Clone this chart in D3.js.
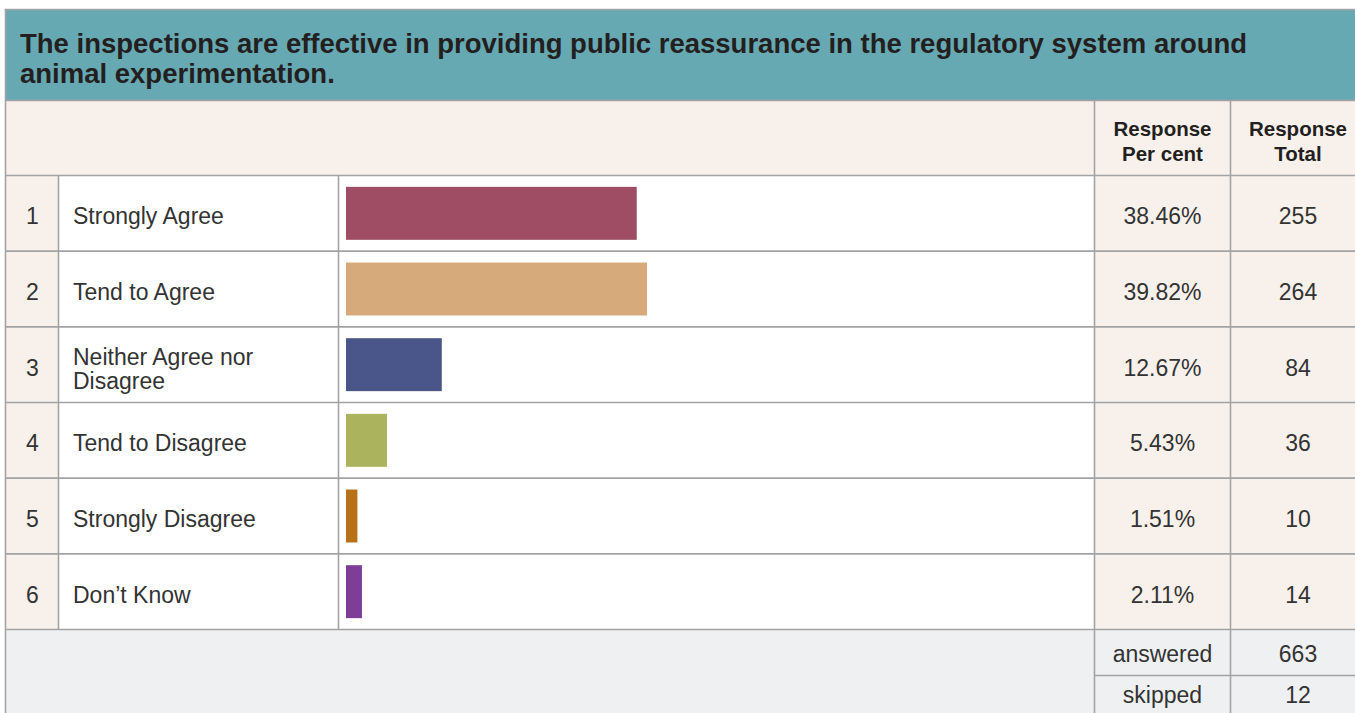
<!DOCTYPE html>
<html>
<head>
<meta charset="utf-8">
<script src="https://cdn.jsdelivr.net/npm/d3@7"></script>
<style>
  html, body { margin: 0; padding: 0; background: #ffffff; }
  svg { display: block; font-family: "Liberation Sans", Arial, sans-serif; }
</style>
</head>
<body>
<div id="wrapper"></div>
<script>
// survey question
const title = 'The inspections are effective in providing public reassurance in the regulatory system around animal experimentation.';

const categories = ['Strongly Agree', 'Tend to Agree', 'Neither Agree nor Disagree', 'Tend to Disagree', 'Strongly Disagree', 'Don\u2019t Know'];
const percents = [38.46, 39.82, 12.67, 5.43, 1.51, 2.11];
const totals = [255, 264, 84, 36, 10, 14];
const colors = ['#9e4d65', '#d6aa7b', '#4a5689', '#abb35c', '#b8711b', '#7e3e97'];
const headers = [['Response', 'Per cent'], ['Response', 'Total']];
const summaryLabels = ['answered', 'skipped'];
const summaryValues = [663, 12];

let width = 1355,
    height = 713;

// column edges
let colX = [5.5, 58.5, 338.5, 1094.5, 1230.5, 1367];
let titleTop = 9.5, titleBottom = 100.5, headTop = 100.5, rowsTop = 175.5, rowsBottom = 629.5, sumRow = 46;

let gridColor = '#a3a3a3',
    cream = '#f8f1eb',
    grey = '#eff0f2',
    teal = '#67a9b3',
    textColor = '#333333';

let svg = d3.select('div#wrapper')
            .append('svg')
            .attr('width', width)
            .attr('height', height);

let rowScale = d3.scaleBand()
                 .domain(d3.range(categories.length))
                 .range([rowsTop, rowsBottom])
                 .padding(0);

let barScale = d3.scaleBand()
                 .domain(d3.range(categories.length))
                 .range([rowsTop, rowsBottom])
                 .paddingInner(0.3)
                 .paddingOuter(0.15);

let x = d3.scaleLinear()
          .domain([0, 100])
          .range([colX[2] + 7.5, colX[2] + 7.5 + 756]);

// title band
svg.append('rect')
   .attr('x', colX[0]).attr('y', titleTop)
   .attr('width', colX[5] - colX[0]).attr('height', titleBottom - titleTop)
   .style('fill', teal);

// header row
svg.append('rect')
   .attr('x', colX[0]).attr('y', headTop)
   .attr('width', colX[5] - colX[0]).attr('height', rowsTop - headTop)
   .style('fill', cream);

// body cell backgrounds
let bgCols = [cream, '#ffffff', '#ffffff', cream, cream];
bgCols.forEach(function(c, i) {
    svg.append('rect')
       .attr('x', colX[i]).attr('y', rowsTop)
       .attr('width', colX[i + 1] - colX[i]).attr('height', rowsBottom - rowsTop)
       .style('fill', c);
});

// summary area
svg.append('rect')
   .attr('x', colX[0]).attr('y', rowsBottom)
   .attr('width', colX[5] - colX[0]).attr('height', height - rowsBottom + 20)
   .style('fill', grey);

// bars
svg.append('g')
   .selectAll('rect')
   .data(percents)
   .enter()
   .append('rect')
   .attr('class', 'bars')
   .attr('x', x(0))
   .attr('y', function(d, i) { return barScale(i); })
   .attr('height', barScale.bandwidth())
   .attr('width', function(d) { return x(d) - x(0); })
   .style('fill', function(d, i) { return colors[i]; });

// grid lines
let grid = svg.append('g')
              .style('stroke', gridColor)
              .style('stroke-width', 1.6)
              .style('fill', 'none');

grid.append('line').attr('x1', colX[0] - 0.8).attr('x2', colX[5]).attr('y1', titleTop).attr('y2', titleTop);
grid.append('line').attr('x1', colX[0]).attr('x2', colX[5]).attr('y1', titleBottom).attr('y2', titleBottom);
grid.append('line').attr('x1', colX[0]).attr('x2', colX[0]).attr('y1', titleTop).attr('y2', height + 5);

let hLines = d3.range(categories.length + 1).map(function(i) { return rowScale(i) === undefined ? rowsBottom : rowScale(i); });
hLines.forEach(function(yy) {
    grid.append('line').attr('x1', colX[0]).attr('x2', colX[5]).attr('y1', yy).attr('y2', yy);
});
grid.append('line').attr('x1', colX[3]).attr('x2', colX[5]).attr('y1', rowsBottom + sumRow).attr('y2', rowsBottom + sumRow);

// vertical lines
[1, 2].forEach(function(i) {
    grid.append('line').attr('x1', colX[i]).attr('x2', colX[i]).attr('y1', rowsTop).attr('y2', rowsBottom);
});
[3, 4].forEach(function(i) {
    grid.append('line').attr('x1', colX[i]).attr('x2', colX[i]).attr('y1', headTop).attr('y2', height + 5);
});

// title text
function wrapWords(textSel, words, maxW) {
    let lines = [], line = [];
    let probe = textSel.append('tspan');
    words.forEach(function(w) {
        line.push(w);
        probe.text(line.join(' '));
        if (probe.node().getComputedTextLength() > maxW && line.length > 1) {
            line.pop();
            lines.push(line.join(' '));
            line = [w];
        }
    });
    lines.push(line.join(' '));
    probe.remove();
    return lines;
}

let titleText = svg.append('text')
                   .style('font-size', '27.5px')
                   .style('font-weight', 'bold')
                   .style('fill', '#231f20');
let titleLines = wrapWords(titleText, title.split(' '), 1275);
titleText.selectAll('tspan')
         .data(titleLines)
         .enter()
         .append('tspan')
         .attr('x', 20)
         .attr('y', function(d, i) { return 53 + i * 30; })
         .text(function(d) { return d; });

// header text
headers.forEach(function(h, j) {
    let cx = (colX[3 + j] + colX[4 + j]) / 2;
    svg.append('text')
       .attr('text-anchor', 'middle')
       .style('font-size', '20.5px')
       .style('font-weight', 'bold')
       .style('fill', '#231f20')
       .selectAll('tspan')
       .data(h)
       .enter()
       .append('tspan')
       .attr('x', j === 1 ? 1298 : cx)
       .attr('y', function(d, i) { return 136 + i * 25; })
       .text(function(d) { return d; });
});

// row text
let rows = svg.append('g')
              .style('font-size', '23px')
              .style('fill', textColor);

let baseOff = 11;

rows.selectAll('text.num')
    .data(categories)
    .enter()
    .append('text')
    .attr('class', 'num')
    .attr('text-anchor', 'middle')
    .attr('x', (colX[0] + colX[1]) / 2 + 0.5)
    .attr('y', function(d, i) { return rowScale(i) + rowScale.bandwidth() / 2 + baseOff; })
    .text(function(d, i) { return i + 1; });

rows.selectAll('text.label')
    .data(categories)
    .enter()
    .append('text')
    .attr('class', 'label')
    .each(function(d, i) {
        let t = d3.select(this);
        let lines = wrapWords(t, d.split(' '), 200);
        let mid = rowScale(i) + rowScale.bandwidth() / 2;
        let y0 = mid + baseOff - (lines.length - 1) * 12 + (lines.length > 1 ? 1 : 0);
        t.selectAll('tspan')
         .data(lines)
         .enter()
         .append('tspan')
         .attr('x', 73)
         .attr('y', function(l, k) { return y0 + k * 24; })
         .text(function(l) { return l; });
    });

rows.selectAll('text.pct')
    .data(percents)
    .enter()
    .append('text')
    .attr('class', 'pct')
    .attr('text-anchor', 'middle')
    .attr('x', (colX[3] + colX[4]) / 2)
    .attr('y', function(d, i) { return rowScale(i) + rowScale.bandwidth() / 2 + baseOff; })
    .text(function(d) { return d.toFixed(2) + '%'; });

rows.selectAll('text.tot')
    .data(totals)
    .enter()
    .append('text')
    .attr('class', 'tot')
    .attr('text-anchor', 'middle')
    .attr('x', 1298)
    .attr('y', function(d, i) { return rowScale(i) + rowScale.bandwidth() / 2 + baseOff; })
    .text(function(d) { return d; });

// answered / skipped
summaryLabels.forEach(function(lbl, i) {
    let yy = rowsBottom + 32 + i * 41.5;
    rows.append('text')
        .attr('text-anchor', 'middle')
        .attr('x', (colX[3] + colX[4]) / 2)
        .attr('y', yy)
        .text(lbl);
    rows.append('text')
        .attr('text-anchor', 'middle')
        .attr('x', 1298)
        .attr('y', yy)
        .text(summaryValues[i]);
});
</script>
</body>
</html>
